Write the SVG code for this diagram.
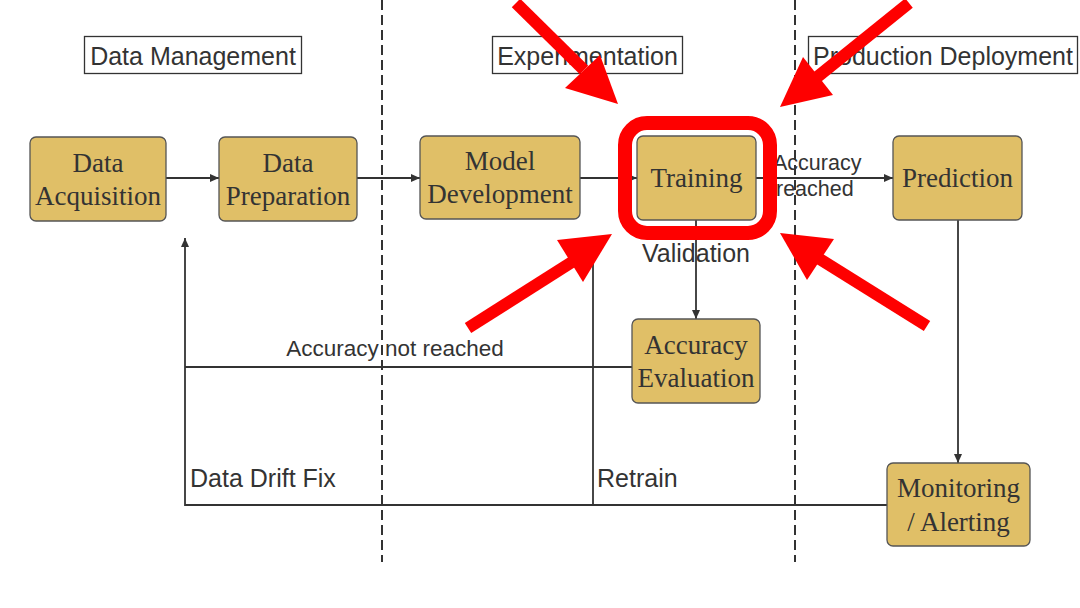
<svg xmlns="http://www.w3.org/2000/svg" width="1080" height="608" viewBox="0 0 1080 608">
<defs>
<style>
.node rect{fill:#E0BF67;stroke:#555;stroke-width:1.3}
.node text{font-family:"Liberation Serif","Times New Roman",serif;font-size:27px;fill:#333;text-anchor:middle}
.title rect{fill:#fff;stroke:#333;stroke-width:1.3}
.title text{font-family:"Liberation Sans",Arial,sans-serif;font-size:25px;fill:#333;text-anchor:middle}
.conn{fill:none;stroke:#333;stroke-width:1.8}
.lbl{font-family:"Liberation Sans",Arial,sans-serif;fill:#333}
.dash{stroke:#333;stroke-width:2;stroke-dasharray:10 5}
.red{fill:#FE0000}
.redl{stroke:#FE0000;stroke-width:12}
</style>
<marker id="ah" markerWidth="10" markerHeight="8" refX="9" refY="4" orient="auto" markerUnits="userSpaceOnUse">
<path d="M0,0 L9,4 L0,8 Z" fill="#333"/>
</marker>
</defs>
<rect width="1080" height="608" fill="#fff"/>
<g id="dividers">
<line class="dash" x1="382" y1="0" x2="382" y2="562"/>
<line class="dash" x1="795" y1="0" x2="795" y2="562"/>
</g>
<g id="title-data-management" class="title">
<rect x="84.5" y="36.5" width="217" height="37"/>
<text x="193" y="65">Data Management</text>
</g>
<g id="title-experimentation" class="title">
<rect x="492.5" y="36.5" width="190" height="37"/>
<text x="587.5" y="65">Experimentation</text>
</g>
<g id="title-production" class="title">
<rect x="808.5" y="36.5" width="269" height="37"/>
<text x="943" y="65">Production Deployment</text>
</g>
<g id="connectors">
<line class="conn" x1="166" y1="178" x2="219" y2="178" marker-end="url(#ah)"/>
<line class="conn" x1="357" y1="178" x2="420" y2="178" marker-end="url(#ah)"/>
<line class="conn" x1="580" y1="178" x2="637" y2="178" marker-end="url(#ah)"/>
<line class="conn" x1="756" y1="178" x2="893" y2="178" marker-end="url(#ah)"/>
<line class="conn" x1="696" y1="220" x2="696" y2="319" marker-end="url(#ah)"/>
<line class="conn" x1="958" y1="220" x2="958" y2="463" marker-end="url(#ah)"/>
<polyline class="conn" points="632,367 185,367"/>
<polyline class="conn" points="887,505 185,505 185,238" marker-end="url(#ah)"/>
<line class="conn" x1="593" y1="505" x2="593" y2="262"/>
<text class="lbl" font-size="21.5" x="773" y="170">Accuracy</text>
<text class="lbl" font-size="21.5" x="776" y="196">reached</text>
<text class="lbl" font-size="25" x="696" y="262" text-anchor="middle">Validation</text>
<text class="lbl" font-size="22.5" x="395" y="356" text-anchor="middle">Accuracy not reached</text>
<text class="lbl" font-size="25" x="190" y="487">Data Drift Fix</text>
<text class="lbl" font-size="25" x="597" y="487">Retrain</text>
</g>
<g id="node-data-acquisition" class="node">
<rect x="30" y="137" width="136" height="84" rx="6"/>
<text x="98" y="172">Data</text>
<text x="98" y="205">Acquisition</text>
</g>
<g id="node-data-preparation" class="node">
<rect x="219" y="137" width="138" height="84" rx="6"/>
<text x="288" y="172">Data</text>
<text x="288" y="205">Preparation</text>
</g>
<g id="node-model-development" class="node">
<rect x="420" y="136" width="160" height="83" rx="6"/>
<text x="500" y="170">Model</text>
<text x="500" y="203">Development</text>
</g>
<g id="node-training" class="node">
<rect x="637" y="136" width="119" height="84" rx="6"/>
<text x="696.5" y="187">Training</text>
</g>
<g id="node-prediction" class="node">
<rect x="893" y="136" width="129" height="84" rx="6"/>
<text x="957.5" y="187">Prediction</text>
</g>
<g id="node-accuracy-evaluation" class="node">
<rect x="632" y="319" width="128" height="84" rx="6"/>
<text x="696" y="354">Accuracy</text>
<text x="696" y="387">Evaluation</text>
</g>
<g id="node-monitoring" class="node">
<rect x="887" y="463" width="143" height="83" rx="6"/>
<text x="958.5" y="497">Monitoring</text>
<text x="958.5" y="531">/ Alerting</text>
</g>
<g id="highlight">
<rect x="625" y="123" width="145" height="110" rx="22" fill="none" stroke="#FE0000" stroke-width="14"/>
<line class="redl" x1="516" y1="3" x2="584" y2="70"/>
<polygon class="red" points="565,88 600,55 618,104"/>
<line class="redl" x1="909" y1="3" x2="816" y2="78"/>
<polygon class="red" points="803,57 833,95 780,107"/>
<line class="redl" x1="468" y1="328" x2="572" y2="262"/>
<polygon class="red" points="557,240 583,282 612,234"/>
<line class="redl" x1="927" y1="326" x2="818" y2="258"/>
<polygon class="red" points="834,239 807,280 780,233"/>
</g>
</svg>
